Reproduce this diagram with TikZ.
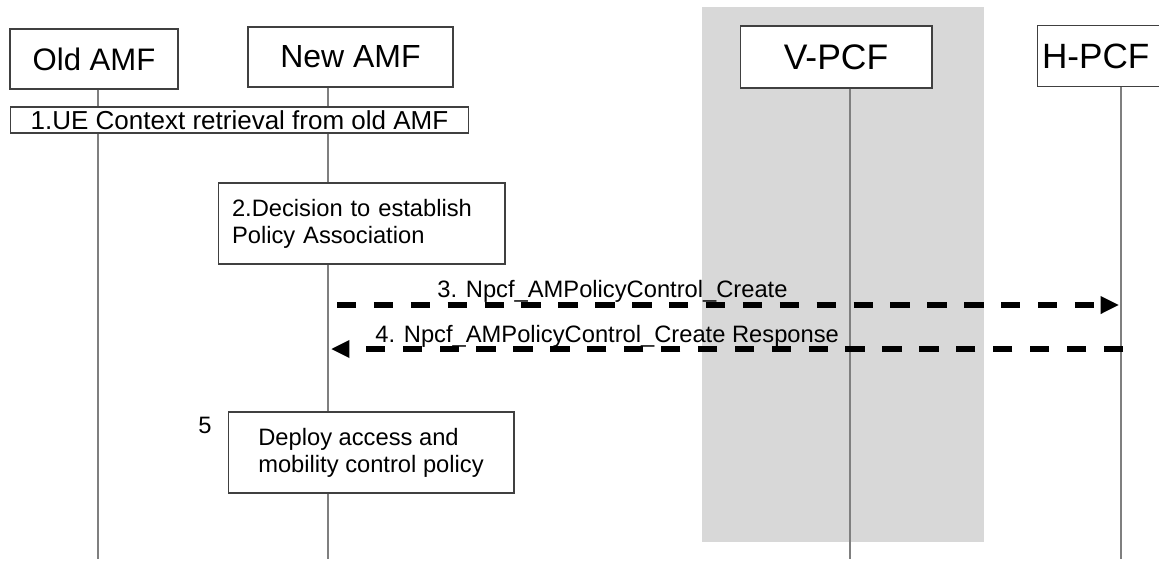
\documentclass[tikz,border=0pt]{standalone}
\usepackage{fontspec}
\setmainfont{Liberation Sans}
\usetikzlibrary{arrows.meta}
\definecolor{vplmn}{HTML}{D8D8D8}
\definecolor{lifeline}{HTML}{7F7F7F}
\definecolor{edge}{HTML}{404040}

\begin{document}
\begin{tikzpicture}[
  x=0.02cm, y=-0.02cm,
  ebox/.style={draw=edge, line width=0.6pt, fill=white, minimum height=1.2cm, inner sep=0pt},
  sbox/.style={draw=edge, line width=0.6pt, fill=white, align=left, inner ysep=0pt,
               font=\fontsize{13.5}{15.3}\selectfont},
  life/.style={draw=lifeline, line width=0.7pt},
  arr/.style={line width=3.2pt, dash pattern=on 11pt off 10pt,
              -{Triangle[length=10.5pt, width=9.5pt]}},
  lbl/.style={font=\fontsize{13.5}{15.3}\selectfont, anchor=base west, inner sep=0pt},
]
  \useasboundingbox (0,0) rectangle (1159,562);

  % visited network
  \fill[vplmn] (702,7) rectangle (984,542);

  % entities
  \node[ebox, minimum width=3.36cm, font=\fontsize{17.7}{21}\selectfont] (oldamf) at (94,59) {Old AMF};
  \node[ebox, minimum width=4.1cm, font=\fontsize{18.2}{21}\selectfont] (newamf) at (350.5,57) {New AMF};
  \node[ebox, minimum width=3.84cm, minimum height=1.24cm, font=\fontsize{20.2}{24}\selectfont] (vpcf) at (836,57) {V-PCF};
  \node[ebox, text width=2.4cm, inner xsep=0.1cm, minimum height=1.22cm, align=left,
        font=\fontsize{20}{24}\selectfont] (hpcf) at (1102,56) {H-PCF};

  % lifelines
  \coordinate (oldamf-end) at (98,559);
  \coordinate (newamf-end) at (328,559);
  \coordinate (vpcf-end) at (850,559);
  \coordinate (hpcf-end) at (1121,559);
  \draw[life] (oldamf.south -| oldamf-end) -- (oldamf-end);
  \draw[life] (newamf.south -| newamf-end) -- (newamf-end);
  \draw[life] (vpcf.south -| vpcf-end) -- (vpcf-end);
  \draw[life] (hpcf.south -| hpcf-end) -- (hpcf-end);

  % steps
  \node[sbox, align=center, minimum width=9.18cm, minimum height=0.52cm, inner xsep=0pt,
        font=\fontsize{14.8}{17}\selectfont] (ctx) at (239.5,120)
    {1.UE Context retrieval from old AMF};
  \node[sbox, text width=5.18cm, inner xsep=0.28cm, minimum height=1.62cm] (decide) at (361.5,223.5)
    {2.Decision to establish\\Policy Association};
  \node[sbox, minimum width=5.72cm, minimum height=1.62cm] (deploy) at (371,452.5)
    {Deploy access and\\mobility control policy};
  \node[lbl, anchor=center] (num5) at (205,425) {5};

  % messages
  \coordinate (m3a) at (337,305);
  \coordinate (m3b) at (1119,305);
  \draw[arr] (m3a) -- (m3b);
  \node[lbl] (m3lbl) at (437,297) {3. Npcf\_AMPolicyControl\_Create};

  \coordinate (m4a) at (1123,349);
  \coordinate (m4b) at (331,349);
  \draw[arr] (m4a) -- (m4b);
  \node[lbl] (m4lbl) at (375,342) {4. Npcf\_AMPolicyControl\_Create Response};
\end{tikzpicture}
\end{document}
